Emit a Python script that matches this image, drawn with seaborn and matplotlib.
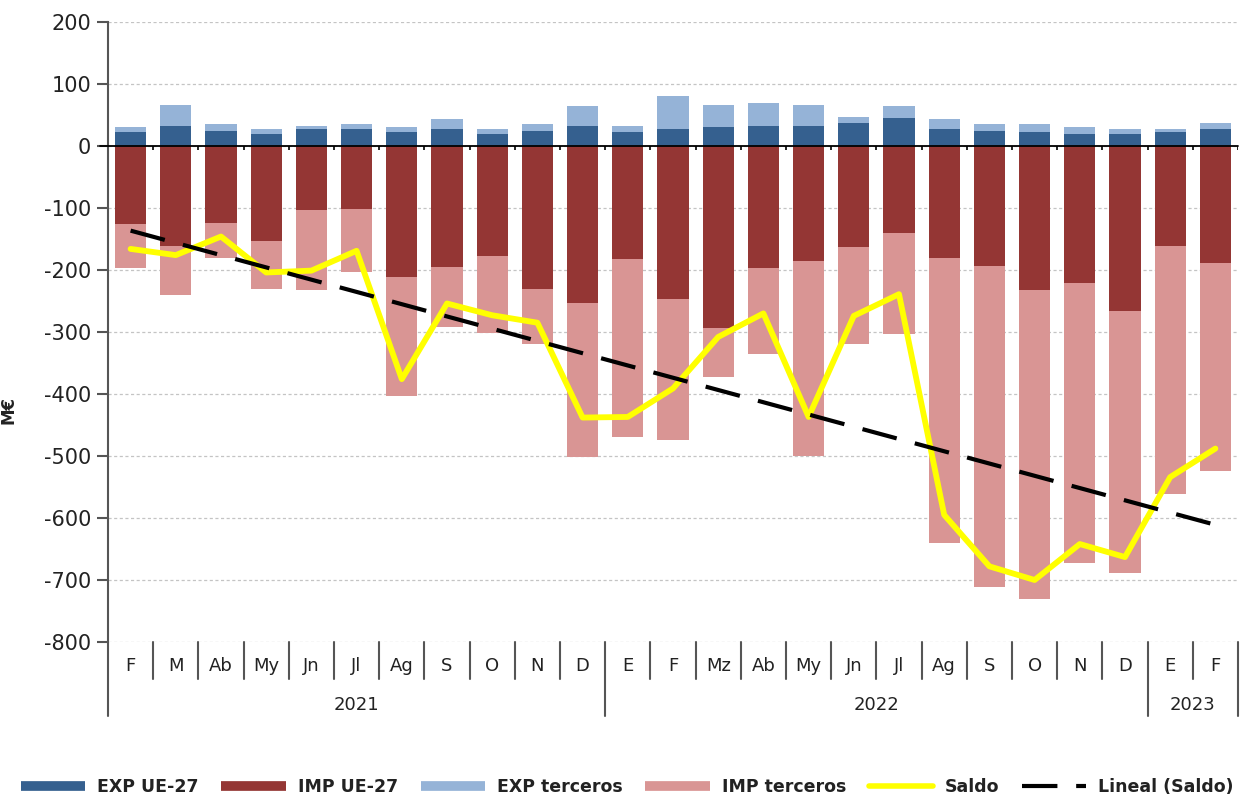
import numpy as np
import pandas as pd
import matplotlib
matplotlib.use("Agg")
import matplotlib.pyplot as plt
from matplotlib.lines import Line2D
import seaborn as sns

# ---------------- data ----------------
months = ["F", "M", "Ab", "My", "Jn", "Jl", "Ag", "S", "O", "N", "D",
          "E", "F", "Mz", "Ab", "My", "Jn", "Jl", "Ag", "S", "O", "N", "D",
          "E", "F"]
years = ["2021", "2022", "2023"]
year_counts = [11, 12, 2]

exp_ue = [23, 33, 25, 20, 27, 27, 23, 28, 20, 25, 33,
          23, 28, 31, 33, 33, 37, 45, 27, 25, 23, 20, 20,
          23, 28]
exp_ter = [8, 33, 10, 8, 6, 8, 8, 15, 8, 10, 31,
           10, 53, 35, 36, 33, 9, 19, 16, 10, 12, 11, 8,
           5, 9]
imp_ue = [-126, -161, -124, -153, -103, -101, -211, -195, -177, -231, -254,
          -182, -246, -293, -196, -186, -163, -140, -181, -194, -233, -221, -266,
          -161, -188]
imp_ter = [-70, -80, -57, -78, -129, -103, -193, -97, -124, -89, -247,
           -288, -228, -80, -139, -314, -156, -163, -459, -518, -498, -452, -423,
           -400, -336]
saldo = [-166, -176, -146, -204, -201, -169, -376, -254, -273, -285, -438,
         -437, -391, -308, -270, -437, -274, -239, -595, -678, -700, -642, -663,
         -534, -488]

labels = ["EXP UE-27", "IMP UE-27", "EXP terceros", "IMP terceros", "Saldo", "Lineal (Saldo)"]
c_exp_ue = "#35608F"
c_imp_ue = "#943634"
c_exp_ter = "#95B3D7"
c_imp_ter = "#D99594"
c_saldo = "#FFFF00"
c_trend = "#000000"

# ---------------- frame ----------------
idx = np.arange(len(months))
df = pd.DataFrame({
    "i": idx,
    "exp_ue": exp_ue,
    "exp_tot": np.array(exp_ue) + np.array(exp_ter),
    "imp_ue": imp_ue,
    "imp_tot": np.array(imp_ue) + np.array(imp_ter),
    "saldo": saldo,
})

sns.set_style("white")
plt.rcParams["font.family"] = ["DejaVu Sans"]

fig = plt.figure(figsize=(12.55, 7.98), dpi=100)
ax = fig.add_axes([108 / 1255, 1 - 642 / 798, 1130 / 1255, 620 / 798])

bw = 0.69
kw = dict(ax=ax, errorbar=None, saturation=1, width=bw, linewidth=0)
sns.barplot(data=df, x="i", y="imp_tot", color=c_imp_ter, **kw)
sns.barplot(data=df, x="i", y="imp_ue", color=c_imp_ue, **kw)
sns.barplot(data=df, x="i", y="exp_tot", color=c_exp_ter, **kw)
sns.barplot(data=df, x="i", y="exp_ue", color=c_exp_ue, **kw)

sns.lineplot(data=df, x="i", y="saldo", color=c_saldo, lw=4.2, ax=ax, zorder=5)
sns.regplot(data=df, x="i", y="saldo", scatter=False, ci=None, ax=ax,
            color=c_trend, line_kws=dict(lw=3, ls=(0, (8.5, 4.5)), zorder=6))

ax.set_xlim(-0.5, len(months) - 0.5)
ax.set_ylim(-800, 200)
ax.set_yticks(np.arange(-800, 201, 100))
ax.set_yticklabels([str(v) for v in range(-800, 201, 100)], fontsize=15, color="#222222")
ax.set_xticks([])
ax.set_xlabel("")
ax.set_ylabel("M€", fontsize=12, fontweight="bold", color="#222222")
ax.yaxis.set_label_coords(-0.080, 0.374)

ax.set_axisbelow(True)
ax.yaxis.grid(True, ls=(0, (2.5, 2)), color="#c4c4c4", lw=0.9)
ax.xaxis.grid(False)
for s in ["top", "right", "bottom"]:
    ax.spines[s].set_visible(False)
ax.spines["left"].set_color("#555555")
ax.spines["left"].set_linewidth(1.5)
ax.tick_params(axis="y", direction="out", length=8, width=1.5, color="#555555", pad=4, left=True)

# zero line with small ticks at category boundaries
ax.axhline(0, xmin=-8 / 1130, xmax=1, color="black", lw=1.3, clip_on=False, zorder=4)
bounds = np.arange(len(months) + 1) - 0.5
ax.vlines(bounds[1:], -7, 0, color="black", lw=1.2, zorder=4)

# category axis below the plot
xt = ax.get_xaxis_transform()
sep_col = "#555555"
year_bounds = np.concatenate([[0], np.cumsum(year_counts)]) - 0.5
for b in bounds:
    long = np.any(np.isclose(b, year_bounds))
    ax.plot([b, b], [0, -0.119 if long else -0.0597], transform=xt, color=sep_col,
            lw=1.5, clip_on=False)
for i, m in enumerate(months):
    ax.text(i, -0.0387, m, transform=xt, ha="center", va="center", fontsize=13, color="#222222")
for k, y in enumerate(years):
    center = (year_bounds[k] + year_bounds[k + 1]) / 2
    ax.text(center, -0.1016, y, transform=xt, ha="center", va="center", fontsize=13, color="#222222")

# legend
handles = [
    Line2D([], [], color=c_exp_ue, lw=7, solid_capstyle="butt"),
    Line2D([], [], color=c_imp_ue, lw=7, solid_capstyle="butt"),
    Line2D([], [], color=c_exp_ter, lw=7, solid_capstyle="butt"),
    Line2D([], [], color=c_imp_ter, lw=7, solid_capstyle="butt"),
    Line2D([], [], color=c_saldo, lw=4),
    Line2D([], [], color=c_trend, lw=3, ls=(0, (8.5, 4.5))),
]
fig.legend(handles, labels, loc="center", bbox_to_anchor=(0.5, 11 / 798), ncol=6,
           frameon=False, prop=dict(size=12.5, weight="bold"), handlelength=3.7,
           handletextpad=0.7, columnspacing=1.3, labelcolor="#222222")

fig.savefig("out.png", dpi=100)
